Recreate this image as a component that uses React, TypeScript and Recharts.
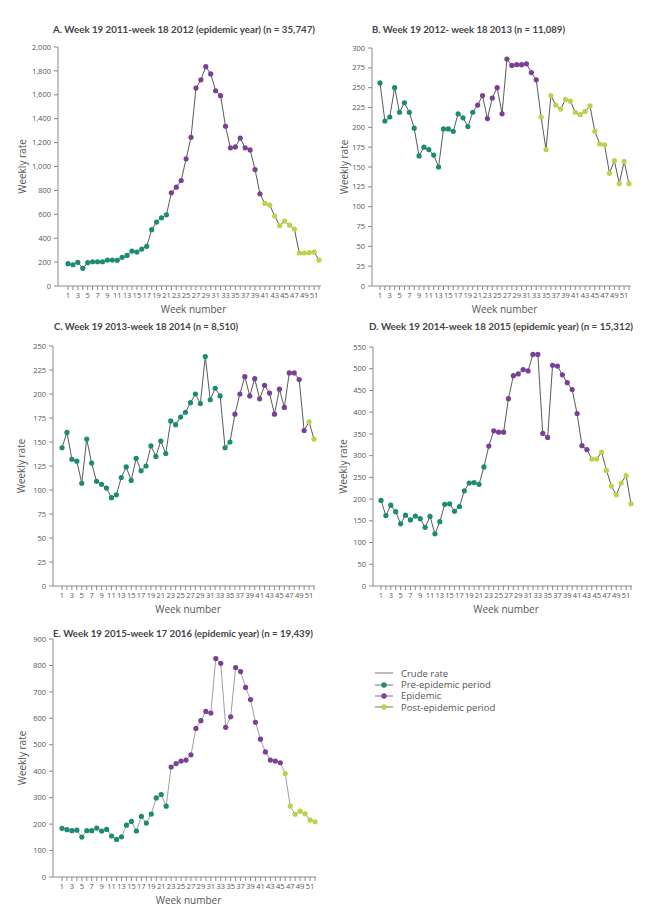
import React from 'react';
import { LineChart, Line, XAxis, YAxis, Legend } from 'recharts';

// week numbers on the x axis (1 = week 19 of the first calendar year)
const weeks = [
  1, 2, 3, 4, 5, 6, 7, 8, 9, 10, 11, 12, 13, 14, 15, 16, 17, 18, 19, 20, 21, 22, 23, 24, 25, 26,
  27, 28, 29, 30, 31, 32, 33, 34, 35, 36, 37, 38, 39, 40, 41, 42, 43, 44, 45, 46, 47, 48, 49, 50, 51, 52,
];

// weekly crude rates per panel
const ratesA = [
  187, 178, 198, 148, 195, 203, 203, 203, 217, 217, 215, 240, 256, 292, 284, 309, 332, 471, 535, 571, 596,
  780, 827, 883, 1064, 1244, 1656, 1725, 1835, 1775, 1634, 1593, 1337, 1156, 1164, 1238, 1156, 1139, 975, 772,
  691, 677, 585, 504, 543, 510, 476, 276, 276, 279, 284, 217,
];
const ratesB = [
  256, 208, 213, 250, 219, 231, 219, 199, 164, 175, 172, 165, 150, 198, 198, 195, 217, 212, 201, 219,
  228, 240, 211, 237, 250, 217, 286, 278, 279, 279, 280, 269, 260,
  213, 172, 240, 228, 223, 235, 233, 219, 216, 220, 227, 195, 179, 178, 142, 158, 129, 157, 129,
];
const ratesC = [
  144, 160, 132, 130, 107, 153, 128, 109, 106, 102, 92, 95, 113, 124, 110, 133, 120, 125, 146, 135, 151, 138,
  172, 168, 176, 181, 191, 200, 190, 239, 194, 206, 198, 144, 150,
  179, 200, 218, 198, 216, 195, 209, 201, 179, 205, 186, 222, 222, 215, 162,
  171, 153,
];
const ratesD = [
  197, 162, 186, 171, 143, 163, 152, 161, 155, 135, 160, 120, 148, 188, 189, 172, 183, 219, 237, 238, 234, 274,
  322, 357, 354, 354, 431, 484, 488, 498, 495, 533, 533, 351, 342, 508, 506, 486, 468, 452, 397, 323, 314,
  292, 292, 308, 266, 230, 210, 237, 254, 189,
];
const ratesE = [
  184, 179, 175, 177, 151, 175, 175, 185, 174, 180, 155, 142, 152, 196, 210, 174, 229, 204, 238, 299, 312, 268,
  416, 429, 438, 442, 462, 562, 591, 626, 620, 826, 808, 566, 606, 792, 777, 717, 671, 585, 521, 473, 442, 438, 432,
  391, 268, 237, 249, 239, 216, 209,
];

// last week of the pre-epidemic and of the epidemic period, panels A..E
const lastPreWeek = [21, 20, 35, 22, 22];
const lastEpiWeek = [40, 33, 50, 43, 45];

const ticksA = [0, 200, 400, 600, 800, 1000, 1200, 1400, 1600, 1800, 2000];
const ticksB = [0, 25, 50, 75, 100, 125, 150, 175, 200, 225, 250, 275, 300];
const ticksC = [0, 25, 50, 75, 100, 125, 150, 175, 200, 225, 250];
const ticksD = [0, 50, 100, 150, 200, 250, 300, 350, 400, 450, 500, 550];
const ticksE = [0, 100, 200, 300, 400, 500, 600, 700, 800, 900];

const titles = [
  'A. Week 19 2011-week 18 2012 (epidemic year)  (n = 35,747)',
  'B. Week 19 2012- week 18 2013 (n = 11,089)',
  'C. Week 19 2013-week 18 2014 (n = 8,510)',
  'D. Week 19 2014-week 18 2015 (epidemic year)  (n = 15,312)',
  'E. Week 19 2015-week 17 2016 (epidemic year) (n = 19,439)',
];

const TEAL = '#1b8b74';
const PURPLE = '#7a3f97';
const LIME = '#bcd24b';
const AXIS = '#8a8a8a';
const TXT = '#555';

function buildRows(rates: number[], preEnd: number, epiEnd: number) {
  return weeks.map((w, i) => ({
    week: w,
    rate: rates[i],
    pre: w <= preEnd ? rates[i] : null,
    epi: w > preEnd && w <= epiEnd ? rates[i] : null,
    post: w > epiEnd ? rates[i] : null,
  }));
}

function WeekTick(props: any) {
  const v = props.payload.value;
  if (v % 2 === 0) return <g />;
  return (
    <text x={props.x} y={props.y} dy="0.71em" textAnchor="middle" fontSize={7.5} fill={TXT}>
      {v}
    </text>
  );
}

interface PanelProps {
  rows: any[];
  ticks: number[];
  left: number;
  top: number;
  x0: number;
  x1: number;
  yTop: number;
  yBottom: number;
  padL: number;
  padR: number;
  labelX: number;
  lineColor: string;
  width?: number;
  legend?: boolean;
}

function LegendBox() {
  const items = [
    { label: 'Crude rate', color: null },
    { label: 'Pre-epidemic period', color: TEAL },
    { label: 'Epidemic', color: PURPLE },
    { label: 'Post-epidemic period', color: LIME },
  ];
  return (
    <div>
      {items.map((it) => (
        <div key={it.label} style={{ display: 'flex', alignItems: 'center', height: 11.3 }}>
          <svg width={18} height={8}>
            <line x1={0} y1={4} x2={18} y2={4} stroke="#777" strokeWidth={1} />
            {it.color && <circle cx={9} cy={4} r={2.7} fill={it.color} />}
          </svg>
          <span style={{ marginLeft: 8, fontSize: 9.5, color: TXT, lineHeight: '11px' }}>{it.label}</span>
        </div>
      ))}
    </div>
  );
}

function Panel(p: PanelProps) {
  const axisH = 36;
  const mTop = p.yTop - p.top;
  const width = p.width ?? p.x1 - p.left + 4;
  const height = p.yBottom - p.top + axisH;
  const yMax = p.ticks[p.ticks.length - 1];
  return (
    <div style={{ position: 'absolute', left: p.left, top: p.top }}>
      <LineChart
        width={width}
        height={height}
        data={p.rows}
        margin={{ top: mTop, right: width - (p.x1 - p.left), bottom: 0, left: 0 }}
      >
        <XAxis
          dataKey="week"
          type="number"
          domain={[1, 52]}
          ticks={weeks}
          interval={0}
          padding={{ left: p.padL, right: p.padR }}
          height={axisH}
          tickSize={4}
          tickMargin={3}
          tick={<WeekTick />}
          axisLine={{ stroke: AXIS }}
          tickLine={{ stroke: AXIS }}
          label={{
            content: ({ viewBox }: any) => (
              <text
                x={viewBox.x + p.padL + (viewBox.width - p.padL - p.padR) / 2}
                y={viewBox.y + 27}
                textAnchor="middle"
                fontSize={10}
                fill={TXT}
              >
                Week number
              </text>
            ),
          }}
        />
        <YAxis
          type="number"
          domain={[0, yMax]}
          ticks={p.ticks}
          interval={0}
          width={p.x0 - p.left}
          tickSize={4}
          tickMargin={3}
          tick={{ fontSize: 7.5, fill: TXT }}
          tickFormatter={(v: number) => v.toLocaleString('en-US')}
          axisLine={{ stroke: AXIS }}
          tickLine={{ stroke: AXIS }}
          label={{
            content: ({ viewBox }: any) => {
              const cx = p.labelX - p.left + 3.5;
              const cy = viewBox.y + viewBox.height / 2;
              return (
                <text
                  x={cx}
                  y={cy}
                  transform={`rotate(-90, ${cx}, ${cy})`}
                  textAnchor="middle"
                  fontSize={10}
                  fill={TXT}
                >
                  Weekly rate
                </text>
              );
            },
          }}
        />
        <Line
          dataKey="rate"
          stroke={p.lineColor}
          strokeWidth={1}
          dot={false}
          activeDot={false}
          isAnimationActive={false}
        />
        <Line dataKey="pre" stroke="none" dot={{ r: 2.6, fill: TEAL, stroke: 'none' }} activeDot={false} isAnimationActive={false} />
        <Line dataKey="epi" stroke="none" dot={{ r: 2.6, fill: PURPLE, stroke: 'none' }} activeDot={false} isAnimationActive={false} />
        <Line dataKey="post" stroke="none" dot={{ r: 2.6, fill: LIME, stroke: 'none' }} activeDot={false} isAnimationActive={false} />
        {p.legend && (
          <Legend
            layout="vertical"
            align="center"
            verticalAlign="middle"
            content={() => <LegendBox />}
            wrapperStyle={{ left: 375, top: 667.6 - p.top, width: 200, height: 46 }}
          />
        )}
      </LineChart>
    </div>
  );
}

// panel titles, fitted to the width they take in the figure
const titleBoxes = [
  { x: 53, y: 33, w: 262 },
  { x: 372, y: 33, w: 193 },
  { x: 54, y: 330, w: 184 },
  { x: 369, y: 330, w: 264 },
  { x: 53, y: 637, w: 260 },
];

function Titles() {
  return (
    <svg
      width={647}
      height={918}
      style={{ position: 'absolute', left: 0, top: 0, pointerEvents: 'none' }}
    >
      {titles.map((t, i) => (
        <text
          key={t}
          x={titleBoxes[i].x}
          y={titleBoxes[i].y}
          textLength={titleBoxes[i].w}
          lengthAdjust="spacingAndGlyphs"
          fontSize={10}
          fontWeight={700}
          fill="#444"
          style={{ fontFamily: 'Lato, "Open Sans", sans-serif' }}
        >
          {t}
        </text>
      ))}
    </svg>
  );
}

export default function App() {
  return (
    <div
      style={{
        position: 'absolute',
        left: 0,
        top: 0,
        width: 647,
        height: 918,
        background: '#fff',
        fontFamily: '"Open Sans", sans-serif',
      }}
    >
      <Panel rows={buildRows(ratesA, lastPreWeek[0], lastEpiWeek[0])} ticks={ticksA}
        left={0} top={39} x0={58} x1={321} yTop={47} yBottom={286} padL={10} padR={2} labelX={22} lineColor="#5a5a5a" />
      <Panel rows={buildRows(ratesB, lastPreWeek[1], lastEpiWeek[1])} ticks={ticksB}
        left={323} top={39} x0={372} x1={631} yTop={48} yBottom={286} padL={8} padR={2} labelX={344} lineColor="#5a5a5a" />
      <Panel rows={buildRows(ratesC, lastPreWeek[2], lastEpiWeek[2])} ticks={ticksC}
        left={0} top={338} x0={53} x1={315} yTop={346} yBottom={586} padL={9} padR={1} labelX={21} lineColor="#5a5a5a" />
      <Panel rows={buildRows(ratesD, lastPreWeek[3], lastEpiWeek[3])} ticks={ticksD}
        left={323} top={338} x0={373} x1={632} yTop={347} yBottom={586} padL={8} padR={1} labelX={343} lineColor="#5a5a5a" />
      <Panel rows={buildRows(ratesE, lastPreWeek[4], lastEpiWeek[4])} ticks={ticksE}
        left={0} top={631} x0={53} x1={316} yTop={639} yBottom={877} padL={9} padR={1} labelX={22} lineColor="#a0a0a0"
        width={647} legend />
      <Titles />
    </div>
  );
}
